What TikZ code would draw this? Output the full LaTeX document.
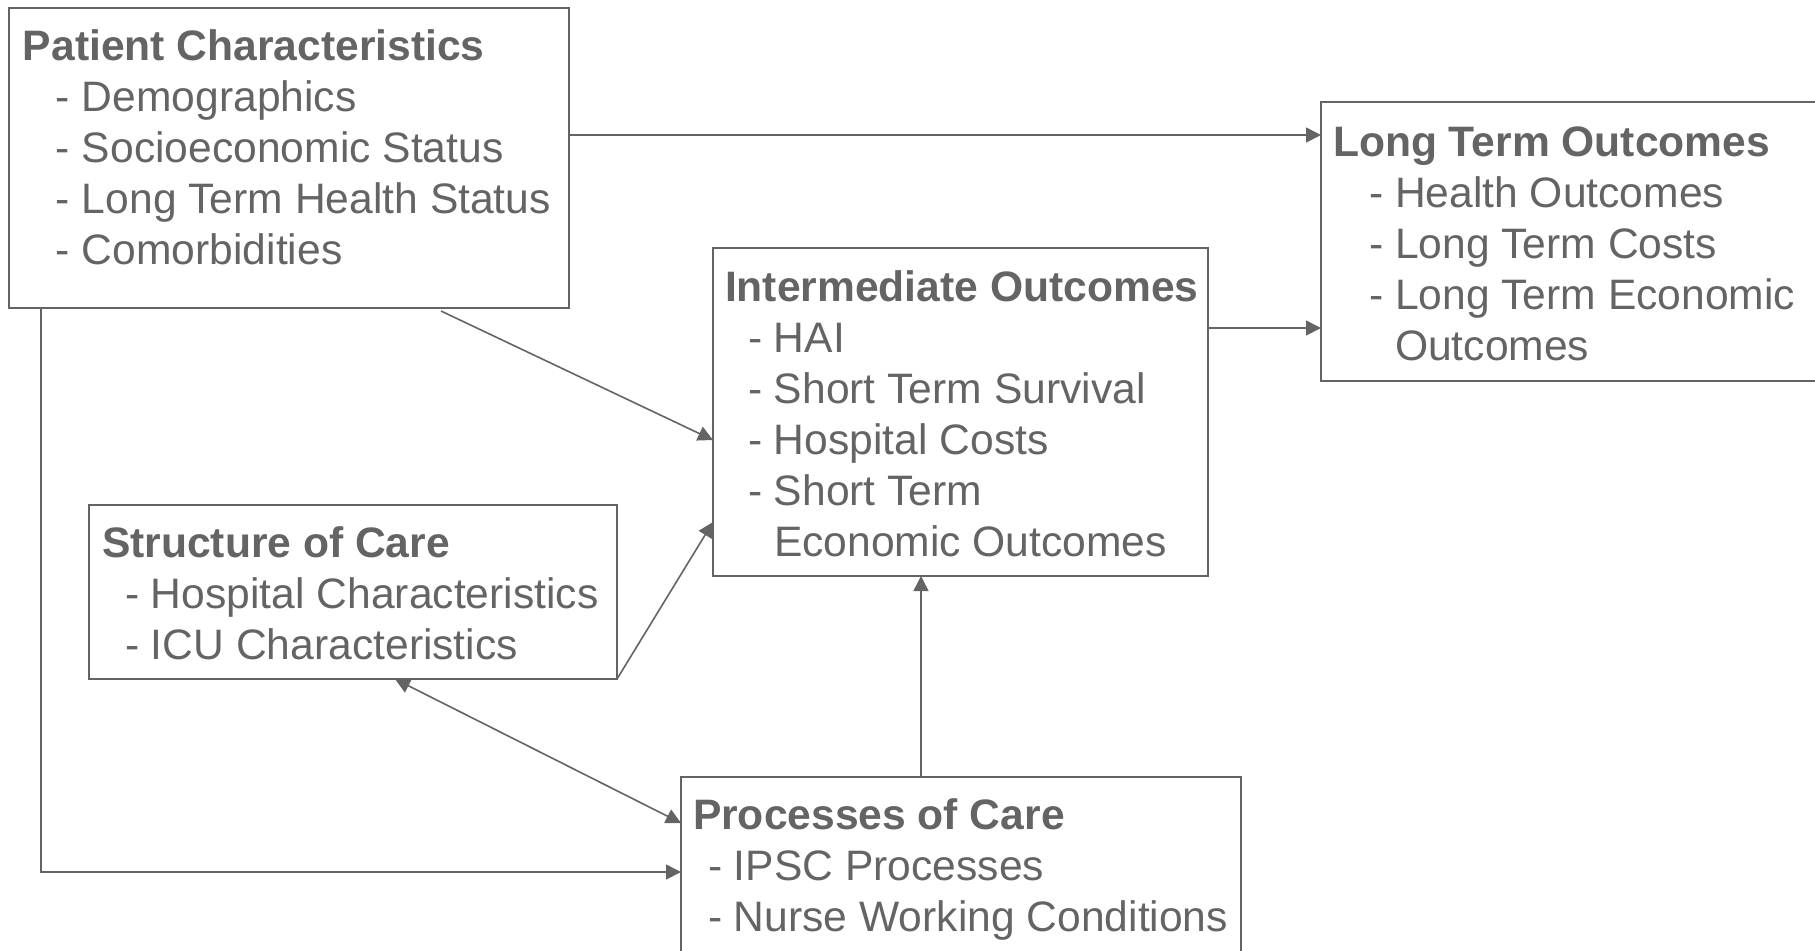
\documentclass[tikz,border=0pt]{standalone}
\usepackage{fontspec}
\setmainfont{Liberation Sans}
\usetikzlibrary{arrows.meta,calc}
\definecolor{ink}{RGB}{100,100,102}
\newcommand{\itm}[1]{\hspace*{#1}}
\begin{document}
\begin{tikzpicture}[x=0.5pt,y=-0.5pt,
  panel/.style={draw=ink, line width=1pt, rectangle, anchor=north west, inner sep=0pt, outer sep=0pt},
  txt/.style={anchor=base west, inner sep=0pt, outer sep=0pt, text=ink,
    font=\fontsize{21.3pt}{25.5pt}\selectfont},
  tip/.tip={Triangle[length=7.5pt,width=7.5pt]},
  arr/.style={draw=ink, line width=0.8pt, -tip},
  dblarr/.style={draw=ink, line width=0.8pt, tip-tip},
]
\useasboundingbox (0,0) rectangle (1815,950);

% boxes
\node[panel, minimum width=280pt, minimum height=150pt] (pat) at (9,8) {};
\node[panel, minimum width=254.5pt, minimum height=139.5pt] (lto) at (1321,102) {};
\node[panel, minimum width=247.5pt, minimum height=164pt] (inter) at (713,248) {};
\node[panel, minimum width=264pt, minimum height=87pt] (str) at (89,505) {};
\node[panel, minimum width=280pt, minimum height=91.5pt] (proc) at (681,777) {};

% box texts
\node[txt] (pattext) at ($(pat.north west)+(14,52)$) {\begin{tabular}[t]{@{}l@{}}
  \textbf{Patient Characteristics}\\
  \itm{16.5pt}- Demographics\\
  \itm{16.5pt}- Socioeconomic Status\\
  \itm{16.5pt}- Long Term Health Status\\
  \itm{16.5pt}- Comorbidities
\end{tabular}};
\node[txt] (ltotext) at ($(lto.north west)+(12,54)$) {\begin{tabular}[t]{@{}l@{}}
  \textbf{Long Term Outcomes}\\
  \itm{18pt}- Health Outcomes\\
  \itm{18pt}- Long Term Costs\\
  \itm{18pt}- Long Term Economic\\
  \itm{18pt}\phantom{- }Outcomes
\end{tabular}};
\node[txt] (intertext) at ($(inter.north west)+(12,53)$) {\begin{tabular}[t]{@{}l@{}}
  \textbf{Intermediate Outcomes}\\
  \itm{11.5pt}- HAI\\
  \itm{11.5pt}- Short Term Survival\\
  \itm{11.5pt}- Hospital Costs\\
  \itm{11.5pt}- Short Term\\
  \itm{11.5pt}\phantom{- }Economic Outcomes
\end{tabular}};
\node[txt] (strtext) at ($(str.north west)+(13,52)$) {\begin{tabular}[t]{@{}l@{}}
  \textbf{Structure of Care}\\
  \itm{11.5pt}- Hospital Characteristics\\
  \itm{11.5pt}- ICU Characteristics
\end{tabular}};
\node[txt] (proctext) at ($(proc.north west)+(12,52)$) {\begin{tabular}[t]{@{}l@{}}
  \textbf{Processes of Care}\\
  \itm{7.5pt}- IPSC Processes\\
  \itm{7.5pt}- Nurse Working Conditions
\end{tabular}};

% connectors
\coordinate (a1) at ($(pat.north east)+(0,127)$);
\draw[arr] (a1) -- (a1 -| lto.west);
\coordinate (a2) at ($(inter.north east)+(0,80)$);
\draw[arr] (a2) -- (a2 -| lto.west);
\draw[arr] ($(pat.south west)+(432,3)$) -- ($(inter.north west)+(0,192)$);
\draw[arr] (str.south east) -- ($(inter.north west)+(0,274)$);
\draw[dblarr] ($(str.south west)+(306,0)$) -- ($(proc.north west)+(0,46)$);
\draw[arr] ($(pat.south west)+(32,0)$) |- ($(proc.north west)+(0,95)$);
\coordinate (a7) at ($(proc.north west)+(240,0)$);
\draw[arr] (a7) -- (a7 |- inter.south);
\end{tikzpicture}
\end{document}
